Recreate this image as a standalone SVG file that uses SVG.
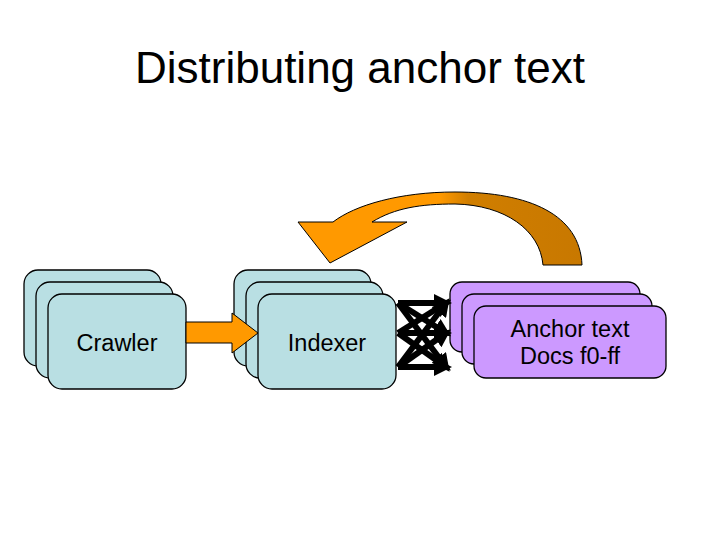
<svg xmlns="http://www.w3.org/2000/svg" width="720" height="540" viewBox="0 0 720 540">
<defs>
<style>
.b{fill:#b9dfe3;stroke:#000;stroke-width:1.3}
.p{fill:#cc99ff;stroke:#000;stroke-width:1.3}
.t{font-family:"Liberation Sans",Arial,sans-serif;font-size:23.5px;text-anchor:middle;fill:#000}
.x{stroke:#000;stroke-width:6;fill:none;marker-end:url(#ah)}
</style>
<marker id="ah" markerWidth="3" markerHeight="3" refX="2" refY="1.5" orient="auto"><path d="M0,0L3,1.5L0,3z" fill="#000"/></marker>
<linearGradient id="g" gradientUnits="userSpaceOnUse" x1="298" x2="582" y1="0" y2="0"><stop offset="0.5" stop-color="#ff9900"/><stop offset="0.6" stop-color="#d07e00"/><stop offset="1" stop-color="#c87800"/></linearGradient>
</defs>
<text x="360" y="83" class="t" style="font-size:44px">Distributing anchor text</text>
<g id="crawler">
<rect class="b" x="24" y="270" width="137" height="96" rx="14"/>
<rect class="b" x="36" y="282" width="137" height="96" rx="14"/>
<rect class="b" x="48" y="294" width="138" height="95" rx="14"/>
<text class="t" x="117" y="351">Crawler</text>
</g>
<g id="indexer">
<rect class="b" x="234" y="270" width="137" height="96" rx="14"/>
<rect class="b" x="246" y="282" width="137" height="96" rx="14"/>
<rect class="b" x="258" y="294" width="138" height="95" rx="14"/>
<text class="t" x="327" y="351">Indexer</text>
</g>
<g id="anchor">
<rect class="p" x="450" y="282" width="190" height="70" rx="12"/>
<rect class="p" x="462" y="294" width="190" height="70" rx="12"/>
<rect class="p" x="474" y="306" width="192" height="72" rx="12"/>
<text class="t" x="570" y="337">Anchor text</text>
<text class="t" x="570" y="364">Docs f0-ff</text>
</g>
<g id="connectors">
<path d="M186,322H232V313L258,333L232,353V343H186Z" fill="#ff9900" stroke="#000" stroke-width="1"/>
<path d="M582,265C580,215 530,192 455,192C400,192 355,205 333,222H298L330,263L407,222H372C395,208 420,204 455,204C505,205 540,230 543,265Z" fill="url(#g)" stroke="#000" stroke-width="1"/>
<path class="x" d="M398,303H446"/>
<path class="x" d="M398,333H446"/>
<path class="x" d="M398,367H446"/>
<path class="x" d="M398,303L446,333"/>
<path class="x" d="M398,333L446,303"/>
<path class="x" d="M398,333L446,367"/>
<path class="x" d="M398,367L446,333"/>
<path class="x" d="M398,303L446,367"/>
<path class="x" d="M398,367L446,303"/>
</g>
</svg>
